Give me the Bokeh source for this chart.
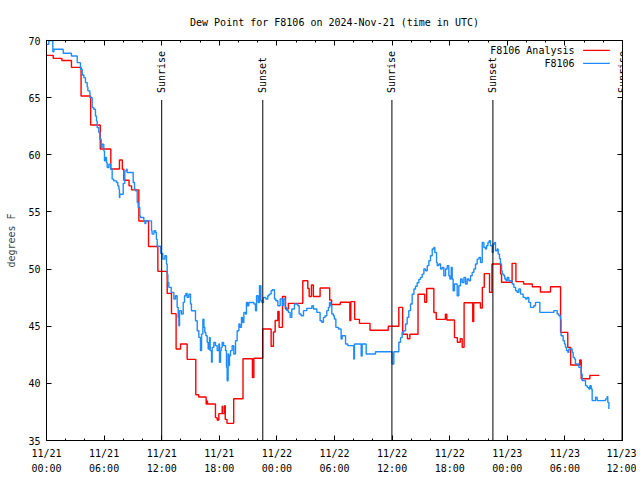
import math
from bokeh.plotting import figure
from bokeh.models import Range1d, FixedTicker, LinearAxis, LabelSet, ColumnDataSource
from bokeh.core.properties import value
from bokeh.embed import file_html
from bokeh.resources import INLINE

FONT = "DejaVu Sans Mono"
RED = "#ff0000"
BLUE = "#1e8cff"

# ---- axis ticks (hours since 2024-11-21 00:00 UTC) ----
x_ticks = [0, 6, 12, 18, 24, 30, 36, 42, 48, 54, 60]
x_minor = list(range(0, 61, 2))
x_tick_labels = ["11/21\n00:00", "11/21\n06:00", "11/21\n12:00", "11/21\n18:00",
                 "11/22\n00:00", "11/22\n06:00", "11/22\n12:00", "11/22\n18:00",
                 "11/23\n00:00", "11/23\n06:00", "11/23\n12:00"]
y_ticks = [35, 40, 45, 50, 55, 60, 65, 70]

# ---- F8106 Analysis (red) ----
analysis_hours = [0.0, 0.7, 1.6, 2.6, 3.6, 4.6, 5.6, 6.7, 7.6, 7.9,
                  8.06, 8.6, 8.86, 9.62, 10.63, 11.6, 12.57, 13.02, 13.5, 13.96,
                  14.65, 15.55, 15.85, 16.63, 16.7, 16.77, 17.6, 17.78, 17.95, 18.3,
                  18.36, 18.55, 18.62, 18.8, 19.5, 20.47, 21.45, 21.6, 22.52, 23.4,
                  23.64, 23.82, 24.1, 24.23, 24.58, 24.9, 25.2, 26.7, 27.22, 27.36,
                  27.6, 27.8, 28.5, 29.5, 29.7, 30.6, 31.6, 31.7, 32.1, 32.6,
                  33.7, 35.6, 36.7, 37.1, 37.6, 37.85, 38.7, 39.4, 39.6, 40.35,
                  40.6, 41.55, 41.7, 42.5, 42.8, 43.1, 43.3, 43.5, 44.4, 44.5,
                  45.2, 45.4, 45.6, 46.15, 46.4, 47.3, 47.4, 48.5, 48.9, 49.7,
                  50.6, 51.45, 52.5, 53.55, 54.3, 54.6, 55.55, 55.7, 56.6, 57.6]
analysis_vals = [68.7, 68.44, 68.25, 67.65, 65.15, 62.6, 60.5, 58.75, 59.55, 58.73,
                 57.77, 57.28, 56.93, 54.2, 51.98, 49.8, 47.87, 46.1, 43.0, 43.45,
                 42.1, 39.0, 38.8, 38.2, 38.45, 38.2, 37.0, 36.8, 37.35, 38.0,
                 37.35, 38.05, 36.85, 36.5, 38.65, 42.15, 40.5, 42.2, 44.75, 43.25,
                 44.5, 45.5, 46.3, 44.9, 47.6, 46.5, 47.0, 48.98, 48.3, 47.6,
                 48.6, 47.6, 48.35, 47.3, 46.9, 47.1, 45.5, 47.15, 45.6, 45.25,
                 44.65, 45.0, 46.65, 44.3, 43.9, 44.3, 47.8, 47.1, 48.3, 46.2,
                 45.6, 46.05, 45.55, 44.0, 43.6, 43.9, 43.15, 47.05, 45.4, 47.05,
                 46.6, 48.4, 49.6, 47.96, 50.44, 49.56, 48.85, 50.5, 48.9, 48.7,
                 48.45, 48.0, 48.45, 44.46, 43.15, 41.6, 42.05, 40.4, 40.7, 40.7]

# ---- F8106 observations (blue) ----
obs_hours = [0.0, 0.24, 0.66, 0.77, 1.74, 2.6, 3.2, 3.54, 3.72, 3.89,
             4.06, 4.24, 4.31, 4.52, 4.76, 4.93, 5.1, 5.21, 5.28, 5.45,
             5.56, 5.7, 5.8, 5.97, 6.04, 6.15, 6.25, 6.32, 6.49, 6.67,
             6.84, 7.0, 7.29, 7.43, 7.54, 7.6, 7.64, 7.99, 8.16, 8.33,
             8.4, 9.03, 9.17, 9.27, 9.45, 9.55, 9.72, 9.79, 10.14, 10.25,
             10.35, 10.94, 11.0, 11.2, 11.36, 11.45, 11.53, 11.88, 12.12, 12.33,
             12.5, 12.57, 12.64, 12.74, 12.99, 13.27, 13.44, 13.61, 13.72, 13.79,
             13.86, 14.06, 14.24, 14.38, 14.52, 14.65, 14.83, 15.0, 15.1, 15.52,
             15.7, 15.87, 16.04, 16.15, 16.29, 16.4, 16.49, 16.6, 16.74, 16.84,
             16.98, 17.05, 17.19, 17.26, 17.43, 17.6, 17.78, 17.95, 18.02, 18.13,
             18.2, 18.3, 18.45, 18.65, 18.75, 18.82, 18.92, 18.99, 19.06, 19.17,
             19.34, 19.51, 19.69, 19.86, 20.04, 20.15, 20.31, 20.45, 20.56, 20.73,
             20.83, 20.95, 21.08, 21.42, 21.6, 21.77, 21.88, 22.05, 22.19, 22.33,
             22.43, 22.6, 22.84, 23.05, 23.19, 23.4, 23.54, 23.75, 23.89, 24.1,
             24.34, 24.58, 24.68, 24.86, 25.03, 25.2, 25.38, 25.55, 25.83, 26.18,
             26.32, 26.52, 26.77, 27.11, 27.64, 27.81, 28.16, 28.5, 28.68, 28.85,
             29.02, 29.2, 29.37, 29.48, 29.61, 29.72, 29.89, 29.99, 30.14, 30.41,
             30.69, 30.8, 31.15, 31.39, 32.01, 32.08, 32.78, 32.88, 33.3, 34.27,
             36.0, 36.18, 36.7, 36.88, 37.05, 37.22, 37.4, 37.57, 37.74, 37.92,
             38.09, 38.27, 38.44, 38.61, 38.79, 38.96, 39.13, 39.31, 39.48, 39.66,
             39.83, 40.0, 40.18, 40.35, 40.45, 40.63, 40.7, 40.87, 41.05, 41.22,
             41.39, 41.57, 41.74, 41.91, 42.02, 42.16, 42.26, 42.36, 42.5, 42.78,
             42.95, 43.13, 43.3, 43.48, 43.65, 43.82, 44.0, 44.17, 44.34, 44.52,
             44.69, 44.86, 45.04, 45.21, 45.39, 45.56, 45.73, 45.84, 45.98, 46.11,
             46.25, 46.43, 46.53, 46.67, 46.77, 46.95, 47.05, 47.19, 47.29, 47.4,
             47.47, 47.64, 47.74, 47.88, 47.99, 48.16, 48.51, 48.68, 48.86, 49.03,
             49.2, 49.38, 49.65, 49.9, 50.07, 50.24, 50.42, 50.76, 50.94, 51.39,
             52.85, 53.2, 53.37, 53.54, 53.6, 53.82, 53.96, 54.06, 54.17, 54.31,
             54.41, 54.76, 54.86, 55.0, 55.1, 55.45, 55.69, 55.8, 56.15, 56.32,
             56.49, 56.6, 56.74, 56.84, 57.19, 57.36, 58.23, 58.4, 58.47, 58.58]
obs_vals = [69.66, 70.0, 69.02, 69.23, 68.88, 68.65, 68.06, 67.48, 66.98, 66.75,
            66.31, 65.94, 65.59, 65.0, 64.13, 63.98, 63.4, 62.96, 62.38, 61.94,
            61.36, 60.63, 60.92, 60.34, 59.47, 59.76, 59.32, 58.88, 59.18, 58.74,
            57.87, 57.72, 57.57, 57.28, 56.99, 56.26, 56.55, 57.5, 58.59, 58.74,
            58.45, 57.57, 56.99, 56.84, 55.82, 55.39, 54.66, 54.51, 54.22, 53.99,
            54.22, 53.35, 53.06, 53.35, 53.2, 52.6, 52.0, 51.37, 50.87, 51.16,
            50.44, 49.56, 48.83, 48.4, 47.96, 47.38, 47.67, 46.65, 45.77, 45.04,
            46.36, 46.07, 47.09, 47.67, 47.87, 47.52, 47.81, 46.94, 46.35, 45.48,
            44.6, 44.02, 42.86, 44.31, 45.62, 44.9, 44.46, 44.17, 43.59, 43.0,
            44.02, 42.86, 41.84, 43.15, 43.59, 43.3, 42.86, 43.44, 41.84, 42.86,
            43.15, 43.59, 43.3, 42.86, 41.4, 40.23, 42.57, 41.55, 42.42, 42.86,
            43.3, 42.57, 43.73, 44.6, 45.19, 44.9, 45.77, 45.33, 46.21, 46.06,
            47.08, 46.79, 47.08, 47.08, 46.94, 46.35, 47.66, 47.08, 48.54, 47.23,
            47.08, 47.52, 47.38, 47.67, 47.81, 48.1, 48.19, 47.38, 47.23, 46.79,
            47.38, 46.79, 47.38, 46.65, 46.36, 46.21, 45.77, 46.5, 46.94, 46.79,
            46.07, 45.92, 46.36, 46.56, 46.79, 46.5, 46.21, 45.48, 45.34, 45.77,
            45.92, 46.36, 46.65, 47.08, 46.79, 46.07, 45.92, 45.63, 44.9, 44.75,
            43.88, 44.17, 43.44, 43.3, 42.13, 43.44, 42.4, 43.44, 42.57, 42.77,
            41.7, 42.77, 43.6, 44.0, 44.5, 44.6, 45.19, 45.77, 46.36, 46.94,
            47.8, 48.25, 48.5, 48.8, 49.1, 49.27, 49.56, 50.0, 49.85, 50.3,
            50.73, 51.16, 51.75, 51.89, 51.45, 50.58, 50.3, 50.44, 50.0, 50.15,
            49.42, 50.0, 50.3, 49.42, 49.13, 50.15, 49.13, 48.1, 48.69, 47.67,
            48.54, 49.13, 48.83, 49.27, 48.69, 49.13, 48.98, 49.42, 49.71, 50.0,
            50.44, 50.87, 51.02, 50.58, 52.33, 51.89, 51.75, 52.04, 52.33, 52.48,
            52.04, 51.45, 52.2, 52.33, 51.6, 51.75, 51.31, 50.9, 50.44, 49.85,
            49.56, 49.42, 49.13, 48.98, 49.27, 48.98, 48.69, 48.4, 48.1, 47.96,
            48.25, 47.81, 47.52, 47.38, 47.52, 47.09, 46.65, 46.79, 47.09, 46.21,
            46.36, 46.07, 45.92, 45.63, 44.17, 43.73, 43.44, 43.15, 42.86, 42.71,
            43.0, 42.71, 42.27, 42.13, 41.7, 41.4, 40.82, 40.24, 39.8, 39.65,
            39.5, 39.8, 39.5, 38.49, 38.78, 38.49, 38.64, 38.84, 38.34, 37.76]

# ---- sun events ----
event_hours = [12.0, 22.53, 35.98, 46.5, 59.95]
event_names = ["Sunrise", "Sunset", "Sunrise", "Sunset", "Sunrise"]

series_names = ["F8106 Analysis", "F8106"]
series_colors = [RED, BLUE]

# ---- figure ----
p = figure(width=636, height=476,
           x_range=Range1d(0, 60), y_range=Range1d(35, 70),
           output_backend="svg", toolbar_location=None,
           min_border_left=46, min_border_right=14,
           min_border_top=40, min_border_bottom=36)
p.background_fill_color = "white"
p.border_fill_color = "white"
p.outline_line_color = "black"
p.outline_line_width = 1
p.grid.visible = False

p.title.text = "Dew Point for F8106 on 2024-Nov-21 (time in UTC)"
p.title.align = "center"
p.title.text_font = FONT
p.title.text_font_size = "10px"
p.title.text_font_style = "normal"
p.title.text_color = "black"
p.title.standoff = 26

overrides = {t: l for t, l in zip(x_ticks, x_tick_labels)}


def style_axis(ax, minor):
    ax.axis_line_color = "black"
    ax.major_tick_line_color = "black"
    ax.major_tick_in = 5
    ax.major_tick_out = 0
    if minor:
        ax.minor_tick_line_color = "black"
        ax.minor_tick_in = 2
        ax.minor_tick_out = 0
    else:
        ax.minor_tick_line_color = None
    ax.major_label_text_font = FONT
    ax.major_label_text_font_size = "10px"
    ax.major_label_text_color = "black"


xa = p.xaxis[0]
xa.ticker = FixedTicker(ticks=x_ticks, minor_ticks=x_minor)
xa.major_label_overrides = overrides
style_axis(xa, True)
xa.major_label_standoff = 7
xa.major_label_text_line_height = 1.4

ya = p.yaxis[0]
ya.ticker = FixedTicker(ticks=y_ticks)
style_axis(ya, False)
ya.major_label_standoff = 6
ya.axis_label = "degrees F"
ya.axis_label_text_font = FONT
ya.axis_label_text_font_size = "10px"
ya.axis_label_text_font_style = "normal"
ya.axis_label_standoff = 8

# mirrored tick marks on the top and right frame edges (no labels drawn)
top = LinearAxis(ticker=FixedTicker(ticks=x_ticks, minor_ticks=x_minor))
style_axis(top, True)
top.major_label_text_color = None
top.major_label_standoff = 0
p.add_layout(top, "above")

right = LinearAxis(ticker=FixedTicker(ticks=y_ticks))
style_axis(right, False)
right.major_label_text_color = None
right.major_label_standoff = 0
p.add_layout(right, "right")

# data series
p.step(analysis_hours, analysis_vals, mode="after", line_color=RED, line_width=1.4)
p.step(obs_hours, obs_vals, mode="after", line_color=BLUE, line_width=1.4)

# sunrise / sunset markers
p.segment(x0=event_hours, y0=[35] * len(event_hours),
          x1=event_hours, y1=[64.8] * len(event_hours),
          line_color="black", line_width=1)
ev_src = ColumnDataSource(dict(x=event_hours, y=[65.4] * len(event_hours), text=event_names))
p.add_layout(LabelSet(x="x", y="y", text="text", source=ev_src,
                      angle=math.pi / 2, text_align="left", text_baseline="middle",
                      text_font=value(FONT), text_font_size="10px", text_color="black"))

# gnuplot-style key (text right-aligned, sample line to the right)
key_text_x = 55.0
key_line_x0, key_line_x1 = 55.9, 58.68
key_rows_y = [69.14, 68.0]
p.text(x=[key_text_x] * 2, y=key_rows_y, text=series_names,
       text_align="right", text_baseline="middle",
       text_font=value(FONT), text_font_size="10px", text_color="black")
p.segment(x0=[key_line_x0] * 2, y0=key_rows_y, x1=[key_line_x1] * 2, y1=key_rows_y,
          line_color=series_colors, line_width=1.4)

open("out.html", "w").write(file_html(p, INLINE))
